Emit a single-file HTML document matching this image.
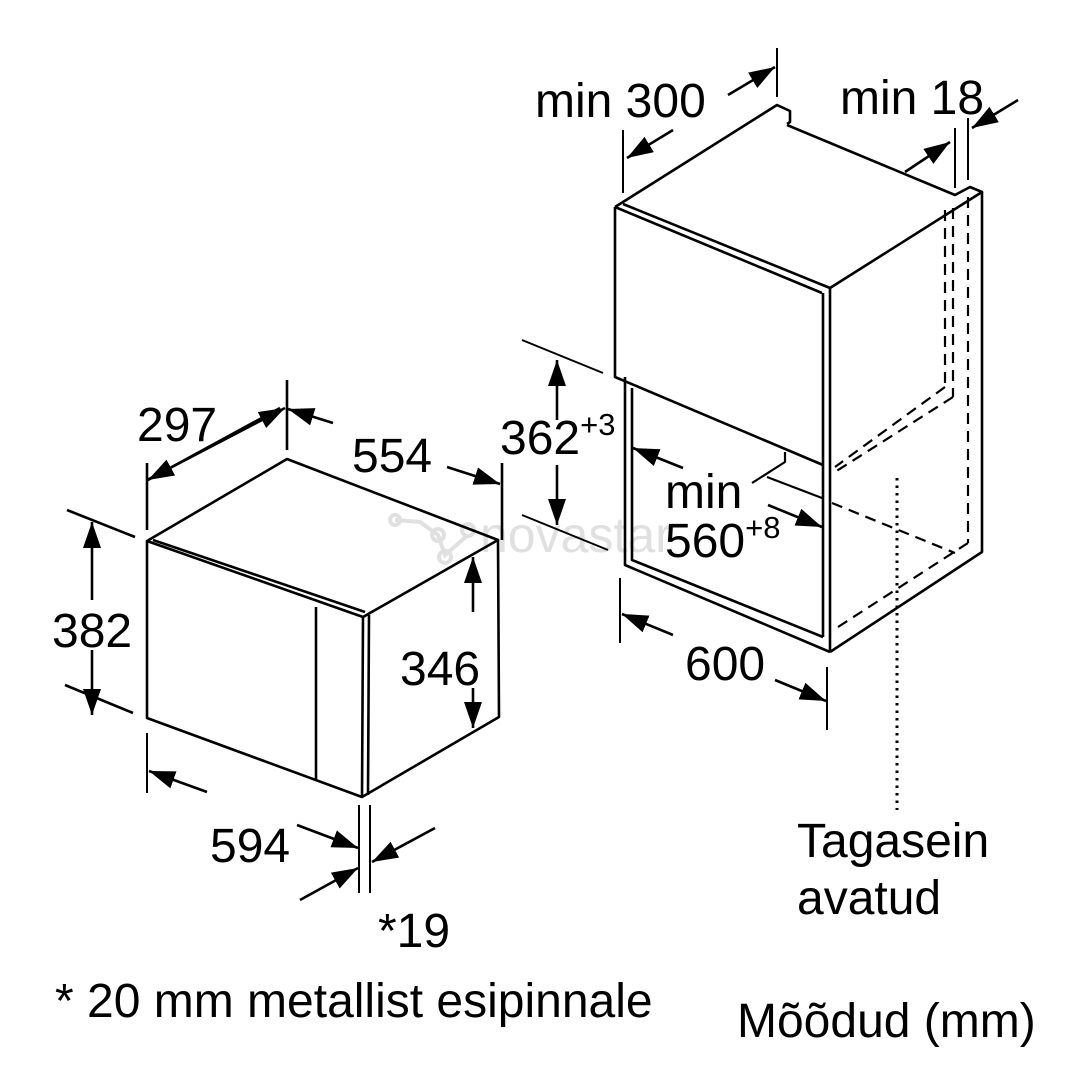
<!DOCTYPE html>
<html><head><meta charset="utf-8"><style>
html,body{margin:0;padding:0;background:#fff;}
svg{display:block;}
text{font-family:"Liberation Sans",Arial,sans-serif;fill:#000;}
</style></head><body>
<svg width="1080" height="1080" viewBox="0 0 1080 1080" xmlns="http://www.w3.org/2000/svg">
<defs>
<marker id="a" markerUnits="userSpaceOnUse" markerWidth="28" markerHeight="20" refX="26" refY="9" orient="auto">
<path d="M0,0 L26,9 L0,18 Z" fill="#000"/>
</marker>
</defs>
<g stroke="#e0e0e0" stroke-width="4" fill="none">
<path d="M395,520 L420,522 L438,535 L445,555 L468,535"/>
<circle cx="395" cy="520" r="5"/><circle cx="438" cy="535" r="6"/><circle cx="445" cy="557" r="6"/><circle cx="468" cy="530" r="6"/>
</g>
<text x="480" y="552" font-size="50" style="fill:#e0e0e0">novastar</text>
<g stroke="#000" stroke-width="2.6" fill="none" stroke-linejoin="round">
<path d="M147,541 L287,459 L498,540 L363,617 Z"/>
<path d="M147,541 L147,718 L362,797 L499,717 L498,540"/>
<path d="M153,540 L365,612"/>
<path d="M363,617 L362,797 M369,615 L368,795"/>
<path d="M316,607 L316,780"/>
<path d="M147,463 L147,530 M287,380 L287,450 M502,463 L502,540"/>
<path d="M67,510 L135,537 M65,685 L133,713"/>
<path d="M147,733 L147,793 M359,805 L359,893 M370,805 L370,893" stroke-width="2"/>
<path d="M280,408 L148,480" marker-end="url(#a)"/>
<path d="M147,480 L285,408" marker-end="url(#a)"/>
<path d="M333,423 L288,409" marker-end="url(#a)"/>
<path d="M447,467 L500,484" marker-end="url(#a)"/>
<path d="M92,600 L92,522" marker-end="url(#a)"/>
<path d="M92,650 L92,715" marker-end="url(#a)"/>
<path d="M473,612 L473,557" marker-end="url(#a)"/>
<path d="M473,688 L473,728" marker-end="url(#a)"/>
<path d="M207,792 L149,771" marker-end="url(#a)"/>
<path d="M297,825 L358,848" marker-end="url(#a)"/>
<path d="M435,828 L372,862" marker-end="url(#a)"/>
<path d="M300,900 L358,868" marker-end="url(#a)"/>
<path d="M615,207 L777,105 L790,111 L790,122 L787,124 M787,125 L955,195 L970,187 L982,192 L830,288"/>
<path d="M615,207 L822,293 M623,204 L830,288"/>
<path d="M615,207 L615,377 L823,465"/>
<path d="M823,293 L823,637 M830,288 L830,652"/>
<path d="M982,192 L982,552 L830,652"/>
<path d="M625,377 L625,565 L830,652 M632,388 L632,560 L823,637"/>
<path d="M785,452 L785,462 L752,483 M767,477 L822,498" stroke-width="2.2"/>
<g stroke-dasharray="11,7" stroke-width="2.2">
<path d="M945,210 L945,387 M953,208 L953,397 M968,197 L968,543"/>
<path d="M945,387 L835,467 M953,397 L835,472 M832,503 L955,553 M838,627 L968,543"/>
</g>
<path d="M897,478 L897,810" stroke-width="3" stroke-dasharray="2.5,5"/>
<path d="M623,130 L623,193 M777,48 L777,97 M955,128 L955,188 M968,118 L968,180" stroke-width="2"/>
<path d="M522,340 L603,373 M522,515 L608,550 M620,578 L620,643 M827,667 L827,730" stroke-width="2"/>
<path d="M673,130 L627,158" marker-end="url(#a)"/>
<path d="M728,95 L775,67" marker-end="url(#a)"/>
<path d="M905,172 L950,142" marker-end="url(#a)"/>
<path d="M1018,100 L972,128" marker-end="url(#a)"/>
<path d="M557,420 L557,360" marker-end="url(#a)"/>
<path d="M557,465 L557,525" marker-end="url(#a)"/>
<path d="M683,468 L633,448" marker-end="url(#a)"/>
<path d="M768,505 L822,527" marker-end="url(#a)"/>
<path d="M673,635 L622,614" marker-end="url(#a)"/>
<path d="M775,680 L826,701" marker-end="url(#a)"/>
</g>
<g font-size="48">
<text x="137" y="441">297</text>
<text x="352" y="472">554</text>
<text x="52" y="647">382</text>
<text x="400" y="685">346</text>
<text x="210" y="862">594</text>
<text x="378" y="947">*19</text>
<text x="535" y="117">min 300</text>
<text x="840" y="114">min 18</text>
<text x="500" y="454">362<tspan font-size="31" dy="-19">+3</tspan></text>
<text x="665" y="508">min</text>
<text x="665" y="557">560<tspan font-size="31" dy="-19">+8</tspan></text>
<text x="685" y="680">600</text>
<text x="797" y="857">Tagasein</text>
<text x="797" y="914">avatud</text>
<text x="55" y="1017">* 20 mm metallist esipinnale</text>
<text x="737" y="1037">Mõõdud (mm)</text>
</g>
</svg>
</body></html>
